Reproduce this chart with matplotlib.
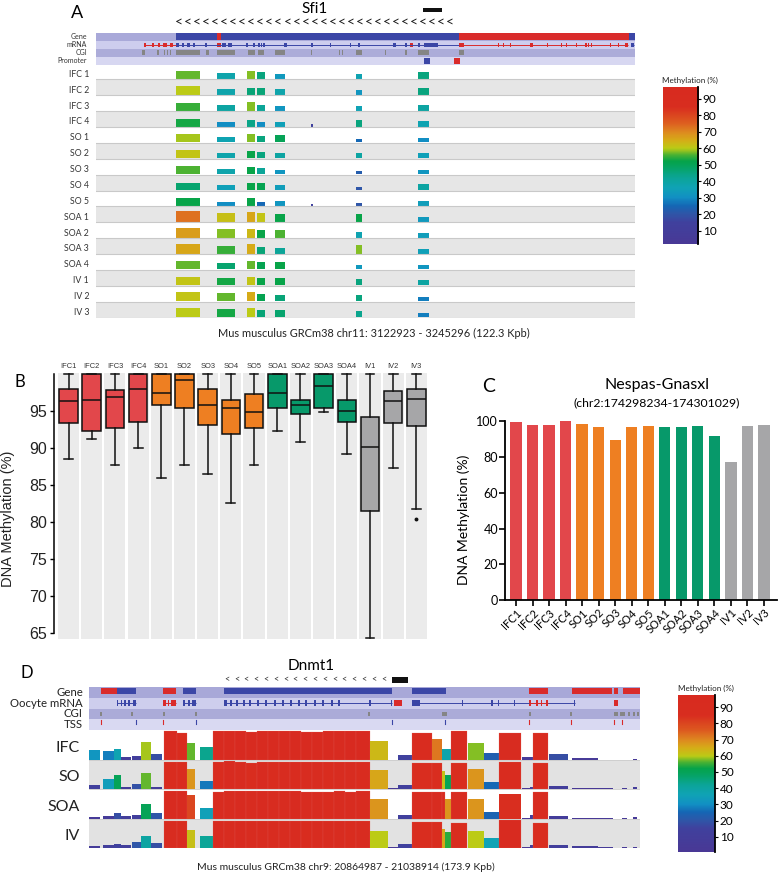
import numpy as np
import matplotlib
matplotlib.use("Agg")
import matplotlib.pyplot as plt
from matplotlib.colors import LinearSegmentedColormap
from matplotlib.patches import Rectangle

plt.rcParams['font.family'] = ['Lato', 'DejaVu Sans']

nan = np.nan
# ---------------- Panel A data : Sfi1 ----------------
sfi1_samples = ["IFC 1", "IFC 2", "IFC 3", "IFC 4", "SO 1", "SO 2", "SO 3", "SO 4", "SO 5",
                "SOA 1", "SOA 2", "SOA 3", "SOA 4", "IV 1", "IV 2", "IV 3"]
sfi1_region_start_kb = [18.2, 27.5, 34.3, 36.5, 40.6, 48.8, 59.0, 73.1]
sfi1_region_end_kb = [23.6, 31.5, 36.1, 38.3, 42.9, 49.2, 60.4, 75.6]
sfi1_methylation = [
    [57, 38, 58, 45, 33, nan, 37, 45],
    [60, 38, 46, 46, 38, nan, 32, 45],
    [55, 40, 58, 42, 32, nan, 36, 40],
    [53, 30, 44, 30, 35, 15, 45, 37],
    [59, 37, 58, 45, 50, nan, 25, 30],
    [61, 38, 52, 45, 40, nan, 40, 35],
    [56, 38, 52, 42, 32, nan, 22, 32],
    [47, 35, 52, 51, 34, nan, 20, 40],
    [52, 30, 52, 25, 32, 15, 20, 34],
    [73, 62, 66, 61, 52, nan, 52, 33],
    [67, 58, 63, 52, 56, nan, 37, 34],
    [66, 55, 65, 46, 42, nan, 58, 35],
    [57, 47, 57, 51, 52, nan, 33, 32],
    [61, 53, 61, 52, 52, nan, 45, 40],
    [61, 57, 65, 51, 46, nan, 45, 28],
    [60, 53, 60, 46, 47, nan, 43, 28],
]
sfi1_length_kb = 122.3
sfi1_gene_start = [18.2, 82.4, 121.0, 27.5]
sfi1_gene_end = [82.4, 121.0, 122.3, 28.4]
sfi1_gene_strand = ["-", "+", "-", "+"]
sfi1_mrna_lines = [(10.9, 18.2, "+"), (18.2, 82.4, "-"), (82.4, 120.7, "+"), (121.4, 122.1, "-")]
sfi1_exon_start = [10.9, 12.7, 14.1, 15.2, 16.8, 18.2, 19.5, 20.6, 22.0, 24.7, 27.5, 28.6, 30.0,
                   34.0, 35.6, 36.8, 37.4, 37.9, 42.7, 48.8, 53.1, 57.6, 59.4, 67.4, 70.1, 71.2,
                   73.1, 74.4, 82.4, 91.2, 92.3, 93.9, 98.5, 102.3, 105.5, 106.6, 108.9, 111.0,
                   111.6, 112.3, 116.6, 118.4, 120.0, 121.4]
sfi1_exon_end = [11.3, 13.2, 14.5, 16.1, 17.5, 18.8, 20.0, 21.3, 22.5, 25.2, 28.4, 29.5, 30.9,
                 34.4, 36.0, 37.1, 37.7, 38.3, 43.3, 49.2, 53.4, 57.9, 59.9, 68.1, 70.6, 71.9,
                 73.5, 77.6, 83.5, 91.5, 92.6, 94.2, 99.2, 102.6, 105.8, 106.9, 109.2, 111.3,
                 111.9, 112.6, 116.9, 118.7, 120.7, 122.1]
sfi1_exon_strand = ["+"] * 5 + ["-"] * 5 + ["+"] + ["-"] * 14 + ["+"] + ["-"] * 2 + ["+"] * 15 + ["-"]
sfi1_cgi_start = [10.4, 13.8, 15.4, 16.1, 16.8, 18.2, 25.0, 27.5, 34.5, 36.8, 40.6, 48.8, 55.1,
                  55.8, 59.0, 65.6, 70.1, 73.1, 82.4]
sfi1_cgi_end = [11.1, 14.3, 15.7, 16.3, 17.0, 23.6, 25.6, 31.5, 36.1, 38.1, 42.9, 49.0, 55.4,
                56.1, 60.4, 65.8, 70.6, 75.6, 83.5]
sfi1_promoter_start = [74.4, 81.2]
sfi1_promoter_end = [75.8, 82.6]
sfi1_promoter_strand = ["-", "+"]

# ---------------- Panel B data : boxplots ----------------
groups16 = ["IFC1", "IFC2", "IFC3", "IFC4", "SO1", "SO2", "SO3", "SO4", "SO5",
            "SOA1", "SOA2", "SOA3", "SOA4", "IV1", "IV2", "IV3"]
group_type = ["IFC"] * 4 + ["SO"] * 5 + ["SOA"] * 4 + ["IV"] * 3
box_whislo = [88.5, 91.2, 87.7, 90.1, 86.0, 87.8, 86.5, 82.6, 87.7, 92.4, 90.8, 94.9, 89.2, 64.4, 87.3, 81.8]
box_q1 = [93.4, 92.4, 92.7, 93.6, 95.9, 95.4, 93.1, 92.0, 92.7, 95.4, 94.6, 95.4, 93.6, 81.5, 93.4, 93.0]
box_med = [96.4, 96.6, 96.9, 98.1, 97.5, 99.2, 95.9, 95.4, 94.9, 97.5, 95.9, 98.5, 95.0, 90.2, 96.4, 96.7]
box_q3 = [98.0, 100.0, 97.9, 100.0, 100.0, 100.0, 98.0, 96.6, 97.3, 100.0, 96.6, 100.0, 96.5, 94.2, 97.7, 98.1]
box_whishi = [100.0] * 16
box_fliers = [[]] * 15 + [[80.4]]

# ---------------- Panel C data : Nespas-Gnasxl ----------------
nespas_meth = [99.6, 97.8, 97.8, 100.0, 98.7, 96.8, 89.4, 96.8, 97.6, 96.8, 96.8, 97.4, 91.6, 77.0, 97.6, 97.8]
c_tick_labels = ["IFC1", "IFC2", "IFC3", "IFC4", "SO1", "SO2", "SO3", "SO4", "SO5",
                 "SOA1", "SOA2", "SOA3", "SOA4", "IV1", "IV2", "IV3"]

# ---------------- Panel D data : Dnmt1 ----------------
dnmt1_groups = ["IFC", "SO", "SOA", "IV"]
dnmt1_length_kb = 173.9
dnmt1_bin_start_kb = [0.0, 4.4, 7.9, 10.1, 13.6, 16.4, 19.6, 23.7, 27.8, 30.9, 35.0, 39.1, 42.6, 46.1,
                      49.6, 53.0, 56.5, 60.0, 63.4, 66.9, 70.4, 73.8, 77.3, 80.8, 84.3, 88.7, 94.4,
                      97.5, 101.9, 108.3, 111.4, 112.4, 114.2, 119.6, 124.7, 129.4, 136.7, 139.2,
                      140.1, 145.2, 152.4, 160.6, 168.2, 171.7]
dnmt1_bin_end_kb = [3.5, 7.9, 10.1, 13.3, 16.4, 19.6, 23.0, 27.8, 30.9, 33.5, 39.1, 42.6, 46.1, 49.6,
                    53.0, 56.5, 60.0, 63.4, 66.9, 70.4, 73.8, 77.3, 80.8, 84.3, 88.7, 94.4, 97.5,
                    101.9, 108.3, 111.4, 112.4, 114.2, 119.3, 124.7, 129.4, 136.3, 139.2, 140.1,
                    144.9, 151.2, 160.6, 165.4, 169.8, 172.9]
dnmt1_ifc = [32, 28, 37, 9, 11, 59, 18, 97, 91, 57, 43, 97, 98, 99, 96, 97, 97, 98, 97, 96, 96, 97, 98,
             99, 99, 63, nan, 15, 91, 72, 38, 38, 97, 58, 23, 93, 7, 7, 91, 18, 5, nan, nan, 3]
dnmt1_so = [13, 34, 50, 8, 19, 57, 8, 92, 92, 68, 27, 92, 96, 93, 90, 95, 92, 93, 92, 93, 94, 92, 93,
            93, 92, 66, 2, 14, 90, 90, 62, 50, 90, 68, 25, 92, 3, 8, 90, 10, 2, 3, 5, 8]
dnmt1_soa = [5, 7, 18, 10, 12, 50, 20, 95, 95, 80, 35, 93, 94, 95, 94, 95, 94, 94, 96, 93, 93, 92, 94,
             93, 94, 68, nan, 13, 93, 93, 93, 68, 93, 68, 24, 85, 2, 12, 93, 9, 2, 3, 3, 5]
dnmt1_iv = [7, 11, 15, 11, 20, 40, 18, 94, 94, 62, 42, 95, 94, 95, 93, 94, 94, 93, 93, 92, 93, 93, 93,
            92, 94, 60, 2, 15, 90, 90, 66, 54, 88, 60, 36, 96, 2, 9, 88, 11, 8, 5, 3, 5]
dnmt1_gene_start = [3.8, 8.8, 23.4, 29.7, 42.6, 101.9, 138.9, 152.4, 165.7, 168.5]
dnmt1_gene_end = [8.8, 14.8, 27.5, 33.8, 95.6, 112.7, 144.9, 165.1, 166.9, 173.9]
dnmt1_gene_strand = ["+", "-", "+", "-", "-", "-", "+", "+", "+", "+"]
dnmt1_mrna_lines = [(8.8, 14.8, "-"), (23.4, 27.5, "+"), (29.7, 33.8, "-"), (42.6, 95.6, "-"),
                    (101.9, 153.4, "-"), (138.9, 144.9, "+")]
dnmt1_exon_start = [8.8, 10.0, 11.2, 12.4, 14.0, 23.4, 24.8, 26.0, 29.7, 31.2, 32.6, 42.6, 44.5, 46.4,
                    48.5, 50.5, 53.0, 55.5, 58.4, 61.0, 63.5, 66.0, 68.2, 71.0, 73.5, 76.5, 78.6,
                    88.5, 95.2, 96.3, 101.9, 117.7, 127.0, 129.0, 134.0, 153.0, 138.9, 141.0,
                    142.5, 144.2, 165.7]
dnmt1_exon_end = [9.3, 10.4, 11.6, 12.8, 14.8, 24.2, 25.4, 27.5, 30.4, 31.8, 33.8, 43.6, 45.2, 47.0,
                  49.3, 51.0, 53.8, 56.2, 59.0, 61.6, 64.0, 66.6, 68.8, 71.6, 74.2, 77.0, 79.2,
                  88.9, 95.6, 98.8, 104.5, 118.0, 127.6, 129.4, 134.4, 153.4, 139.5, 141.6,
                  143.0, 144.9, 166.9]
dnmt1_exon_strand = ["-"] * 5 + ["+"] * 3 + ["-"] * 3 + ["-"] * 18 + ["+"] + ["-"] * 6 + ["+"] * 5
dnmt1_cgi_start = [3.5, 13.3, 23.4, 33.5, 88.1, 111.4, 138.9, 151.8, 165.7, 167.6, 170.1, 171.7, 172.9]
dnmt1_cgi_end = [4.1, 13.9, 24.0, 34.1, 88.7, 113.0, 139.5, 152.4, 166.9, 169.1, 170.7, 172.3, 173.6]
dnmt1_tss_kb = [3.8, 14.8, 23.4, 33.8, 95.6, 112.4, 138.9, 152.1, 165.7, 168.2]
dnmt1_tss_strand = ["+", "-", "+", "-", "-", "-", "+", "+", "+", "+"]

# ---------------- styles ----------------
meth_cmap = LinearSegmentedColormap.from_list("meth", [
    (0.00, "#4A3895"), (0.15, "#40419E"), (0.20, "#2F56A8"), (0.25, "#1567B5"),
    (0.30, "#1290C4"), (0.36, "#10A3B5"), (0.42, "#0CA598"), (0.47, "#07A46E"),
    (0.52, "#05A34A"), (0.56, "#4AB233"), (0.60, "#BCCB16"), (0.65, "#D6AC18"),
    (0.70, "#DE8820"), (0.76, "#DD5A20"), (0.85, "#D92E1F"), (1.00, "#D82A20")])
strand_color = {"+": "#D92B2B", "-": "#3B46A6"}
type_color = {"IFC": "#E2474B", "SO": "#EE7F22", "SOA": "#07996A", "IV": "#A6A6A8"}

W, H = 778, 875
fig = plt.figure(figsize=(W / 100, H / 100), dpi=100)


def pax(x0, y0, x1, y1):
    return fig.add_axes([x0 / W, 1 - y1 / H, (x1 - x0) / W, (y1 - y0) / H])


def ptext(x, y, s, **kw):
    return fig.text(x / W, 1 - y / H, s, **kw)


def prect(x0, y0, x1, y1, color):
    fig.patches.append(Rectangle((x0 / W, 1 - y1 / H), (x1 - x0) / W, (y1 - y0) / H,
                                 transform=fig.transFigure, color=color, lw=0))


def colorbar(x0, y0, x1, y1, vlo, vhi, label_x, label_y):
    cax = pax(x0, y0, x1, y1)
    grad = np.linspace(vlo, vhi, 256).reshape(-1, 1)
    cax.imshow(grad, aspect='auto', cmap=meth_cmap, vmin=0, vmax=100, origin='lower',
               extent=(0, 1, vlo, vhi))
    cax.set_xlim(0, 1)
    cax.set_ylim(vlo, vhi)
    cax.set_xticks([])
    cax.yaxis.tick_right()
    cax.set_yticks(range(10, 100, 10))
    for s in ['left', 'top', 'bottom']:
        cax.spines[s].set_visible(False)
    cax.spines['right'].set_linewidth(1.3)
    cax.tick_params(axis='y', length=2, width=0.8, labelsize=8.5, pad=1.5)
    ptext(label_x, label_y, "Methylation (%)", ha='center', va='center', fontsize=5.8, color='#222')


def header_tracks(ax, L, bgs):
    ax.set_xlim(0, L)
    ax.set_ylim(len(bgs), 0)
    ax.axis('off')
    for i, c in enumerate(bgs):
        ax.add_patch(Rectangle((0, i), L, 1, color=c, lw=0))


def draw_mrna(ax, row, lines, es, ee, estr):
    for s, e, st in lines:
        ax.plot([s, e], [row + 0.5, row + 0.5], color=strand_color[st], lw=0.7, solid_capstyle='butt')
    for s, e, st in zip(es, ee, estr):
        ax.add_patch(Rectangle((s, row + 0.22), e - s, 0.56, color=strand_color[st], lw=0))


# ====================== Panel A ======================
ptext(77, 13, "A", fontsize=13, ha='center', va='center')
ptext(315, 9, "Sfi1", fontsize=11, ha='center', va='center')
prect(423, 7.5, 442, 11.5, "#111111")
for xp in np.linspace(175, 446, 31):
    ptext(xp, 22, "<", fontsize=10, ha='left', va='center', color='#1a1a1a')

axh = pax(96, 33, 635, 64.5)
L = sfi1_length_kb
header_tracks(axh, L, ["#A9A9D9", "#CDCDEE", "#ACACD9", "#D7D7F1"])
for s, e, st in zip(sfi1_gene_start, sfi1_gene_end, sfi1_gene_strand):
    axh.add_patch(Rectangle((s, 0.05), e - s, 0.9, color=strand_color[st], lw=0))
draw_mrna(axh, 1, sfi1_mrna_lines, sfi1_exon_start, sfi1_exon_end, sfi1_exon_strand)
for s, e in zip(sfi1_cgi_start, sfi1_cgi_end):
    axh.add_patch(Rectangle((s, 2.15), e - s, 0.7, color="#858585", lw=0))
for s, e, st in zip(sfi1_promoter_start, sfi1_promoter_end, sfi1_promoter_strand):
    axh.add_patch(Rectangle((s, 3.12), e - s, 0.76, color=strand_color[st], lw=0))
for i, lab in enumerate(["Gene", "mRNA", "CGI", "Promoter"]):
    ptext(87, 33 + (i + 0.5) * 7.875, lab, fontsize=5, ha='right', va='center', color='#333')

axs = pax(96, 63.5, 635, 317.5)
axs.set_xlim(0, L)
axs.set_ylim(16, 0)
axs.axis('off')
meth = np.array(sfi1_methylation, dtype=float)
for i in range(16):
    if i % 2 == 1:
        axs.add_patch(Rectangle((0, i), L, 1, color="#E6E6E6", lw=0))
    axs.plot([0, L], [i + 1, i + 1], color="#C9C9C9", lw=0.8)
    for j in range(meth.shape[1]):
        v = meth[i, j]
        if np.isnan(v):
            continue
        h = v / 100 * 0.9
        axs.add_patch(Rectangle((sfi1_region_start_kb[j], i + 0.97 - h),
                                sfi1_region_end_kb[j] - sfi1_region_start_kb[j], h,
                                color=meth_cmap(v / 100), lw=0))
    ptext(89, 63.5 + (i + 0.68) * 15.875, sfi1_samples[i], fontsize=6.3, ha='right', va='center',
          color='#333')
ptext(374, 333, "Mus musculus GRCm38 chr11: 3122923 - 3245296 (122.3 Kpb)", fontsize=7.9,
      ha='center', va='center', color='#222')
colorbar(663, 87, 698, 244, 2, 97, 690, 80)

# ====================== Panel B ======================
axb = pax(54, 373, 429, 639)
axb.set_xlim(-0.672, 15.5)
axb.set_ylim(64.2, 100.2)
for k in range(16):
    axb.axvspan(k - 0.5, k + 0.41, color="#EBEBEB", lw=0, zorder=0)
stats = []
for k in range(16):
    stats.append(dict(whislo=box_whislo[k], q1=box_q1[k], med=box_med[k], q3=box_q3[k],
                      whishi=box_whishi[k], fliers=box_fliers[k]))
bp = axb.bxp(stats, positions=np.arange(16) - 0.045, widths=0.8, patch_artist=True, capwidths=0.38,
             boxprops=dict(linewidth=1.1, edgecolor='#111'),
             medianprops=dict(color='#111', linewidth=1.1),
             whiskerprops=dict(color='#111', linewidth=1.1),
             capprops=dict(color='#111', linewidth=1.1),
             flierprops=dict(marker='o', markersize=1.8, markerfacecolor='#111', markeredgecolor='#111'))
for k, box in enumerate(bp['boxes']):
    box.set_facecolor(type_color[group_type[k]])
for s in ['top', 'right', 'bottom']:
    axb.spines[s].set_visible(False)
axb.spines['left'].set_bounds(65, 100)
axb.spines['left'].set_linewidth(1.1)
axb.set_yticks([65, 70, 75, 80, 85, 90, 95])
axb.set_xticks(np.arange(16) - 0.045)
axb.set_xticklabels(groups16, fontsize=5.4, family=['Liberation Sans', 'DejaVu Sans'], color='#333')
axb.tick_params(axis='x', top=True, labeltop=True, bottom=False, labelbottom=False, length=0, pad=2.5)
axb.tick_params(axis='y', length=3, width=1, labelsize=11.5, pad=2, labelcolor='#222')
for t in axb.get_yticklabels():
    t.set_family(['Liberation Sans', 'DejaVu Sans'])
ptext(20, 382, "B", fontsize=12, ha='center', va='center')
ptext(8, 519, "DNA Methylation (%)", fontsize=10.5, rotation=90, ha='center', va='center',
      family=['Liberation Sans', 'DejaVu Sans'], color='#222')

# ====================== Panel C ======================
axc = pax(505, 417.4, 777, 600)
axc.bar(np.arange(16), nespas_meth, width=0.68, color=[type_color[g] for g in group_type], zorder=2)
axc.set_xlim(-0.665, 15.79)
axc.set_ylim(0, 102.2)
for s in ['top', 'right']:
    axc.spines[s].set_visible(False)
axc.spines['left'].set_bounds(0, 100)
axc.spines['left'].set_linewidth(1.3)
axc.spines['bottom'].set_linewidth(1.3)
axc.set_yticks(range(0, 101, 20))
axc.set_xticks(np.arange(16))
axc.set_xticklabels(c_tick_labels, rotation=45, ha='right', rotation_mode='anchor', fontsize=8)
axc.tick_params(axis='y', length=4, width=1.2, labelsize=9, pad=1)
axc.tick_params(axis='x', length=4, width=1.2, pad=1)
ptext(489, 386, "C", fontsize=14, ha='center', va='center')
ptext(657, 385, "Nespas-Gnasxl", fontsize=11.5, ha='center', va='center')
ptext(657, 403, "(chr2:174298234-174301029)", fontsize=8.8, ha='center', va='center')
ptext(464, 520, "DNA Methylation (%)", fontsize=10, rotation=90, ha='center', va='center')

# ====================== Panel D ======================
ptext(27, 673, "D", fontsize=12, ha='center', va='center')
ptext(311, 666, "Dnmt1", fontsize=11, ha='center', va='center')
prect(392, 677, 408, 683, "#111111")
for xp in np.linspace(224, 381, 17):
    ptext(xp, 680, "<", fontsize=6.5, ha='left', va='center', color='#333')

LD = dnmt1_length_kb
axdh = pax(89, 687, 640, 730)
header_tracks(axdh, LD, ["#A8A8D8", "#CECEED", "#ABABD8", "#D9D9F2"])
for s, e, st in zip(dnmt1_gene_start, dnmt1_gene_end, dnmt1_gene_strand):
    axdh.add_patch(Rectangle((s, 0.08), e - s, 0.6, color=strand_color[st], lw=0))
draw_mrna(axdh, 1, dnmt1_mrna_lines, dnmt1_exon_start, dnmt1_exon_end, dnmt1_exon_strand)
for s, e in zip(dnmt1_cgi_start, dnmt1_cgi_end):
    axdh.add_patch(Rectangle((s, 2.3), e - s, 0.4, color="#858585", lw=0))
for t, st in zip(dnmt1_tss_kb, dnmt1_tss_strand):
    axdh.plot([t, t], [3.05, 3.45], color=strand_color[st], lw=0.8)
for i, lab in enumerate(["Gene", "Oocyte mRNA", "CGI", "TSS"]):
    ptext(83, 687 + (i + 0.5) * 10.75, lab, fontsize=8.2, ha='right', va='center', color='#222')

axd = pax(89, 730, 640, 848)
axd.set_xlim(0, LD)
axd.set_ylim(4, 0)
axd.axis('off')
dvals = [dnmt1_ifc, dnmt1_so, dnmt1_soa, dnmt1_iv]
for i in range(4):
    if i % 2 == 1:
        axd.add_patch(Rectangle((0, i), LD, 1, color="#E2E2E2", lw=0))
    axd.plot([0, LD], [i + 1, i + 1], color="#CCCCCC", lw=0.6)
    for s, e, v in zip(dnmt1_bin_start_kb, dnmt1_bin_end_kb, dvals[i]):
        if np.isnan(v):
            continue
        h = v / 100 * 0.98
        axd.add_patch(Rectangle((s, i + 1 - h), e - s, h, facecolor=meth_cmap(v / 100),
                                edgecolor='#E2605A' if v > 85 else 'none', lw=0.15))
    ptext(80, 730 + (i + 0.6) * 29.5, dnmt1_groups[i], fontsize=11.5, ha='right', va='center',
          color='#222')
ptext(346, 867, "Mus musculus GRCm38 chr9: 20864987 - 21038914 (173.9 Kpb)", fontsize=7.5,
      ha='center', va='center', color='#222')
colorbar(678, 695, 715, 852, 0.6, 97.5, 706, 688)

fig.savefig("out.png", dpi=100)
